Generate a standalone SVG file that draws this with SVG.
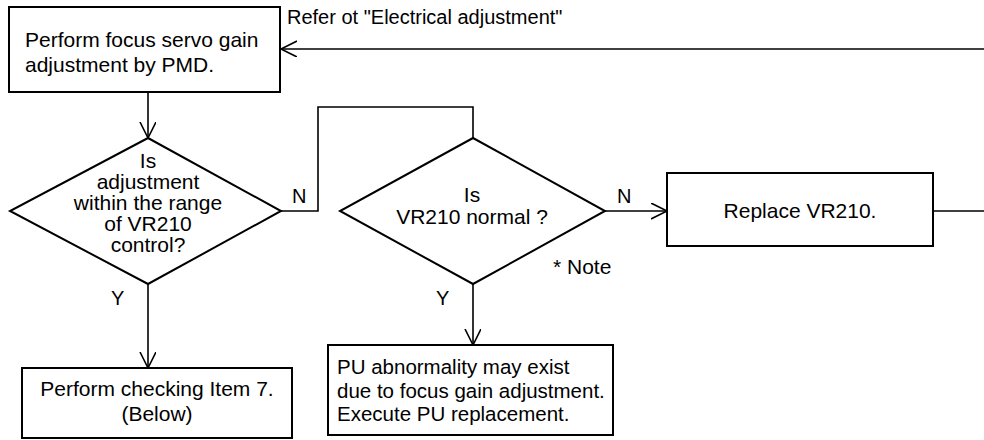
<svg xmlns="http://www.w3.org/2000/svg" width="984" height="440" viewBox="0 0 984 440">
<defs>
<marker id="arr" markerUnits="userSpaceOnUse" markerWidth="20" markerHeight="20" refX="16" refY="8" orient="auto">
<path d="M0,0 L16,8 L0,16" fill="none" stroke="#000" stroke-width="1.6"/>
</marker>
<style>
.box{fill:#fff;stroke:#000;stroke-width:2}
.con{fill:none;stroke:#000;stroke-width:1.6}
text{font-family:"Liberation Sans",Arial,sans-serif;font-size:21px;fill:#000}
.c{text-anchor:middle}
.lbl{font-size:20px}
.pu{font-size:20.5px}
</style>
</defs>
<rect width="984" height="440" fill="#fff"/>

<g id="connectors">
<path class="con" d="M984,49 L281,49" marker-end="url(#arr)"/>
<path class="con" d="M148,92 L148,138" marker-end="url(#arr)"/>
<path class="con" d="M281,211 L318,211 L318,107 L473,107 L473,138"/>
<path class="con" d="M605,211 L667,211" marker-end="url(#arr)"/>
<path class="con" d="M933,211 L984,211"/>
<path class="con" d="M148,284 L148,368" marker-end="url(#arr)"/>
<path class="con" d="M473,284 L473,345" marker-end="url(#arr)"/>
<text class="lbl" x="287" y="24">Refer ot "Electrical adjustment"</text>
<text class="lbl" x="292" y="203">N</text>
<text class="lbl" x="617" y="203">N</text>
<text class="lbl" x="111" y="305">Y</text>
<text class="lbl" x="436" y="305">Y</text>
<text x="553" y="274">* Note</text>
</g>

<g id="n1">
<rect class="box" x="9" y="7" width="271" height="85"/>
<text x="25" y="47">Perform focus servo gain</text>
<text x="25" y="72">adjustment by PMD.</text>
</g>

<g id="d1">
<polygon class="box" points="148,138 281,211 148,284 10,211"/>
<text class="c" x="148" y="168">Is</text>
<text class="c" x="148" y="189">adjustment</text>
<text class="c" x="148" y="210">within the range</text>
<text class="c" x="148" y="231">of VR210</text>
<text class="c" x="148" y="252">control?</text>
</g>

<g id="d2">
<polygon class="box" points="473,138 605,211 473,284 340,211"/>
<text class="c" x="472" y="202">Is</text>
<text class="c" x="472" y="224">VR210 normal ?</text>
</g>

<g id="n3">
<rect class="box" x="667" y="173" width="266" height="73"/>
<text class="c" x="800" y="218">Replace VR210.</text>
</g>

<g id="n2">
<rect class="box" x="22" y="368" width="270" height="70"/>
<text class="c" x="157" y="396">Perform checking Item 7.</text>
<text class="c" x="157" y="421">(Below)</text>
</g>

<g id="n4">
<rect class="box" x="328" y="345" width="285" height="90"/>
<text class="pu" x="337" y="374">PU abnormality may exist</text>
<text class="pu" x="337" y="398">due to focus gain adjustment.</text>
<text class="pu" x="337" y="421">Execute PU replacement.</text>
</g>
</svg>
